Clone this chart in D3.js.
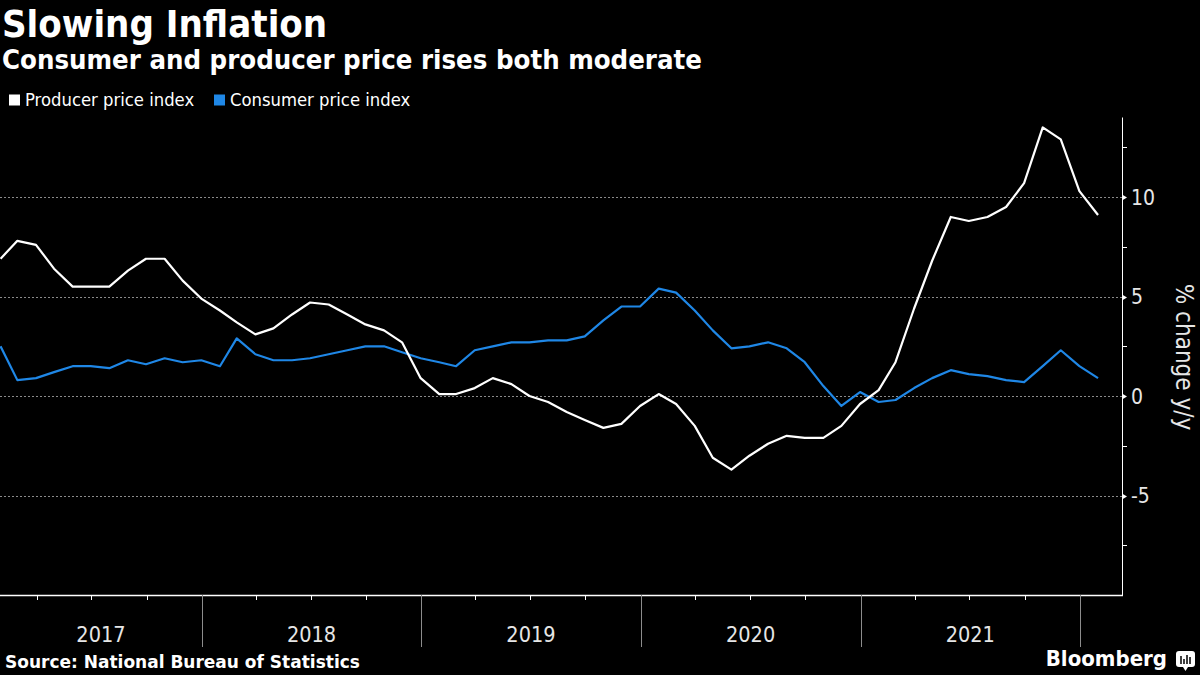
<!DOCTYPE html>
<html>
<head>
<meta charset="utf-8">
<script src="https://cdn.jsdelivr.net/npm/d3@7"></script>
<style>
  html, body { margin: 0; padding: 0; background: #000; }
  svg { display: block; }
</style>
</head>
<body>
<svg id="chart" width="1200" height="675"></svg>
<script>
// ---- Data ----
const months = [
  "2017-01","2017-02","2017-03","2017-04","2017-05","2017-06","2017-07","2017-08","2017-09","2017-10","2017-11","2017-12",
  "2018-01","2018-02","2018-03","2018-04","2018-05","2018-06","2018-07","2018-08","2018-09","2018-10","2018-11","2018-12",
  "2019-01","2019-02","2019-03","2019-04","2019-05","2019-06","2019-07","2019-08","2019-09","2019-10","2019-11","2019-12",
  "2020-01","2020-02","2020-03","2020-04","2020-05","2020-06","2020-07","2020-08","2020-09","2020-10","2020-11","2020-12",
  "2021-01","2021-02","2021-03","2021-04","2021-05","2021-06","2021-07","2021-08","2021-09","2021-10","2021-11","2021-12",
  "2022-01"
];
const ppiValues = [
  6.9, 7.8, 7.6, 6.4, 5.5, 5.5, 5.5, 6.3, 6.9, 6.9, 5.8, 4.9,
  4.3, 3.7, 3.1, 3.4, 4.1, 4.7, 4.6, 4.1, 3.6, 3.3, 2.7, 0.9,
  0.1, 0.1, 0.4, 0.9, 0.6, 0.0, -0.3, -0.8, -1.2, -1.6, -1.4, -0.5,
  0.1, -0.4, -1.5, -3.1, -3.7, -3.0, -2.4, -2.0, -2.1, -2.1, -1.5, -0.4,
  0.3, 1.7, 4.4, 6.8, 9.0, 8.8, 9.0, 9.5, 10.7, 13.5, 12.9, 10.3,
  9.1
];
const cpiValues = [
  2.5, 0.8, 0.9, 1.2, 1.5, 1.5, 1.4, 1.8, 1.6, 1.9, 1.7, 1.8,
  1.5, 2.9, 2.1, 1.8, 1.8, 1.9, 2.1, 2.3, 2.5, 2.5, 2.2, 1.9,
  1.7, 1.5, 2.3, 2.5, 2.7, 2.7, 2.8, 2.8, 3.0, 3.8, 4.5, 4.5,
  5.4, 5.2, 4.3, 3.3, 2.4, 2.5, 2.7, 2.4, 1.7, 0.5, -0.5, 0.2,
  -0.3, -0.2, 0.4, 0.9, 1.3, 1.1, 1.0, 0.8, 0.7, 1.5, 2.3, 1.5,
  0.9
];
const seriesNames = ["Producer price index", "Consumer price index"];
const seriesColors = ["#ffffff", "#1f87e6"];
const yTicks = [-5, 0, 5, 10];
const yMinorTicks = [-7.5, -2.5, 2.5, 7.5, 12.5];
const yearLabels = ["2017", "2018", "2019", "2020", "2021"];
const title = "Slowing Inflation";
const subtitle = "Consumer and producer price rises both moderate";
const yAxisTitle = "% change y/y";
const source = "Source: National Bureau of Statistics";

// ---- Layout ----
const COND = "'DejaVu Sans Condensed', 'DejaVu Sans', sans-serif";
const WIDE = "'DejaVu Sans', sans-serif";
const svg = d3.select("#chart");
svg.append("rect").attr("width", 1200).attr("height", 675).attr("fill", "#000");

const plot = { left: 0, right: 1122, top: 117.5, bottom: 595 };

// end-of-month dates
const parseMonth = d3.timeParse("%Y-%m");
const dates = months.map(m => d3.timeDay.offset(d3.timeMonth.offset(parseMonth(m), 1), -1));

const x = d3.scaleTime()
  .domain([new Date(2017, 0, 1), new Date(2022, 0, 1)])
  .range([-17.5, 1080]);
const y = d3.scaleLinear().domain([-10, 14]).range([plot.bottom, plot.top]);

// ---- Titles ----
svg.append("text").attr("x", 2).attr("y", 37)
  .attr("fill", "#fff").attr("font-size", 38).attr("font-weight", "bold")
  .style("font-family", COND)
  .text(title);
svg.append("text").attr("x", 2).attr("y", 69)
  .attr("fill", "#fff").attr("font-size", 27.3).attr("font-weight", "bold")
  .style("font-family", COND)
  .text(subtitle);

// ---- Legend ----
const legend = svg.append("g");
const legendX = [9, 214];
seriesNames.forEach((name, i) => {
  legend.append("rect").attr("x", legendX[i]).attr("y", 94.5)
    .attr("width", 11).attr("height", 11).attr("fill", seriesColors[i]);
  legend.append("text").attr("x", legendX[i] + 16).attr("y", 106)
    .attr("fill", "#fff").attr("font-size", 18.3)
    .style("font-family", COND).text(name);
});

// ---- Gridlines ----
svg.append("g").selectAll("line").data(yTicks).join("line")
  .attr("x1", plot.left).attr("x2", plot.right)
  .attr("y1", d => Math.round(y(d)) + 0.5).attr("y2", d => Math.round(y(d)) + 0.5)
  .attr("stroke", "#8a8a8a").attr("stroke-width", 1)
  .attr("stroke-dasharray", "2,2");

// ---- Y axis (right) ----
const yAxis = svg.append("g");
yAxis.append("line")
  .attr("x1", plot.right + 0.5).attr("x2", plot.right + 0.5)
  .attr("y1", plot.top).attr("y2", plot.bottom)
  .attr("stroke", "#fff").attr("stroke-width", 1);
yAxis.selectAll(".minor").data(yMinorTicks).join("line")
  .attr("x1", plot.right).attr("x2", plot.right + 5)
  .attr("y1", d => Math.round(y(d)) + 0.5).attr("y2", d => Math.round(y(d)) + 0.5)
  .attr("stroke", "#fff");
yAxis.selectAll(".major").data(yTicks).join("path")
  .attr("d", d => {
    const yy = Math.round(y(d)) + 0.5;
    return `M${plot.right},${yy - 3}L${plot.right + 5},${yy}L${plot.right},${yy + 3}Z`;
  })
  .attr("fill", "#fff");
yAxis.selectAll(".lbl").data(yTicks).join("text")
  .attr("x", plot.right + 9).attr("y", d => y(d) + 7.5)
  .attr("fill", "#e6e6e6").attr("font-size", 21)
  .style("font-family", COND)
  .text(d => d);
svg.append("text")
  .attr("transform", `translate(1176, 357) rotate(90)`)
  .attr("text-anchor", "middle")
  .attr("fill", "#e6e6e6").attr("font-size", 24)
  .style("font-family", COND)
  .text(yAxisTitle);

// ---- X axis ----
const xAxis = svg.append("g");
xAxis.append("line")
  .attr("x1", plot.left).attr("x2", plot.right + 1)
  .attr("y1", plot.bottom + 0.5).attr("y2", plot.bottom + 0.5)
  .attr("stroke", "#fff").attr("stroke-width", 1.5);
const quarterTicks = d3.timeMonth.every(3).range(new Date(2017, 1, 1), new Date(2022, 2, 1))
  .filter(d => d.getMonth() !== 0);
xAxis.selectAll(".q").data(quarterTicks).join("line")
  .attr("x1", d => Math.round(x(d)) + 0.5).attr("x2", d => Math.round(x(d)) + 0.5)
  .attr("y1", plot.bottom).attr("y2", plot.bottom + 5)
  .attr("stroke", "#fff");
const yearStarts = d3.timeYear.range(new Date(2018, 0, 1), new Date(2022, 0, 2));
xAxis.selectAll(".sep").data(yearStarts).join("line")
  .attr("x1", d => Math.round(x(d)) + 0.5).attr("x2", d => Math.round(x(d)) + 0.5)
  .attr("y1", plot.bottom).attr("y2", 647)
  .attr("stroke", "#8c8c8c").attr("stroke-width", 1);
// labels centred in the visible part of each year
xAxis.selectAll(".yl").data(yearLabels).join("text")
  .attr("x", d => {
    const a = Math.max(plot.left, x(new Date(+d, 0, 1)));
    const b = Math.min(plot.right, x(new Date(+d + 1, 0, 1)));
    return (a + b) / 2;
  })
  .attr("y", 642)
  .attr("text-anchor", "middle")
  .attr("fill", "#e6e6e6").attr("font-size", 21.5)
  .style("font-family", COND)
  .text(d => d);

// ---- Lines ----
svg.append("clipPath").attr("id", "clip")
  .append("rect").attr("x", plot.left).attr("y", 0).attr("width", plot.right - plot.left).attr("height", 675);
const lineGen = vals => d3.line()
  .x((d, i) => x(dates[i]))
  .y(d => y(d))(vals);
const seriesData = [ppiValues, cpiValues];
[1, 0].forEach(i => {
  svg.append("path")
    .attr("clip-path", "url(#clip)")
    .attr("d", lineGen(seriesData[i]))
    .attr("fill", "none")
    .attr("stroke", seriesColors[i])
    .attr("stroke-width", 2.2)
    .attr("stroke-linejoin", "round");
});

// ---- Footer ----
svg.append("text").attr("x", 5).attr("y", 668)
  .attr("fill", "#fff").attr("font-size", 17).attr("font-weight", "bold")
  .style("font-family", WIDE)
  .text(source);
svg.append("text").attr("x", 1167).attr("y", 666)
  .attr("text-anchor", "end")
  .attr("fill", "#fff").attr("font-size", 22).attr("font-weight", "bold")
  .style("font-family", COND)
  .text("Bloomberg");
const icon = svg.append("g").attr("transform", "translate(1176,651)");
icon.append("rect").attr("width", 19).attr("height", 16).attr("rx", 3).attr("fill", "#fff");
icon.append("path").attr("d", "M7,16L9.5,20L12,16Z").attr("fill", "#fff");
[[5, 8], [8, 5], [11, 9], [14, 7]].forEach(([bx, bh]) => {
  icon.append("rect").attr("x", bx - 0.75).attr("y", 13 - bh).attr("width", 1.5).attr("height", bh).attr("fill", "#000");
});
</script>
</body>
</html>
